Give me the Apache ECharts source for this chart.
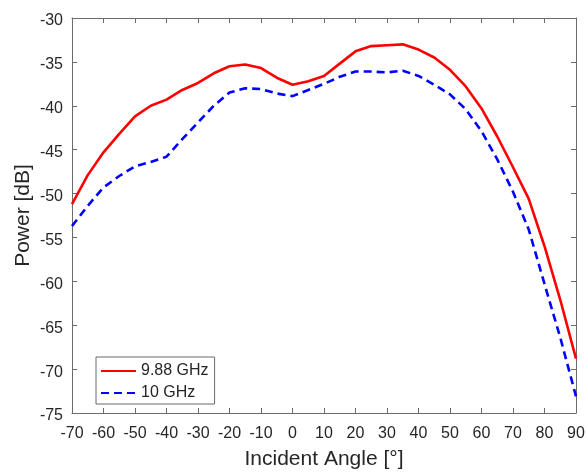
<!DOCTYPE html>
<html>
<head>
<meta charset="utf-8">
<script src="https://cdn.jsdelivr.net/npm/echarts@6/dist/echarts.min.js"></script>
<style>
html,body{margin:0;padding:0;background:#fff;}
#chart{width:588px;height:472px;}
</style>
</head>
<body>
<div id="chart"></div>
<script>
const angles = [-70,-65,-60,-55,-50,-45,-40,-35,-30,-25,-20,-15,-10,-5,0,5,10,15,20,25,30,35,40,45,50,55,60,65,70,75,80,85,90];
const power988 = [-51.2,-47.9,-45.3,-43.2,-41.2,-40.0,-39.3,-38.2,-37.4,-36.3,-35.5,-35.3,-35.7,-36.8,-37.6,-37.2,-36.6,-35.2,-33.8,-33.2,-33.1,-33.0,-33.6,-34.5,-35.9,-37.8,-40.3,-43.5,-47.0,-50.6,-56.0,-62.1,-68.8];
const power10 = [-53.7,-51.4,-49.3,-48.0,-46.9,-46.4,-45.8,-43.8,-41.9,-40.0,-38.5,-38.0,-38.1,-38.6,-38.9,-38.2,-37.5,-36.7,-36.1,-36.1,-36.2,-36.0,-36.6,-37.6,-38.7,-40.4,-42.9,-46.1,-49.8,-54.1,-60.3,-66.4,-73.1];
const seriesNames = ['9.88 GHz','10 GHz'];
const xTicks = {min:-70, max:90, interval:10};
const yTicks = {min:-75, max:-30, interval:5};

const font = 'Liberation Sans, Arial, Helvetica, sans-serif';
const txt = '#262626';
const axCol = '#6b6b6b';

const chart = echarts.init(document.getElementById('chart'), null, {renderer:'canvas'});
const baseX = {
  type:'value', min:xTicks.min, max:xTicks.max, interval:xTicks.interval,
  axisLine:{show:true, onZero:false, lineStyle:{color:axCol, width:1}},
  axisTick:{show:true, inside:true, length:5, lineStyle:{color:axCol}},
  splitLine:{show:false}
};
const baseY = {
  type:'value', min:yTicks.min, max:yTicks.max, interval:yTicks.interval,
  axisLine:{show:true, onZero:false, lineStyle:{color:axCol, width:1}},
  axisTick:{show:true, inside:true, length:5, lineStyle:{color:axCol}},
  splitLine:{show:false}
};
chart.setOption({
  animation:false,
  backgroundColor:'#fff',
  grid:{left:72, right:12, top:18, bottom:59, containLabel:false, outerBoundsMode:'none'},
  legend:{
    show:true, orient:'vertical', left:96, top:357,
    data:seriesNames,
    backgroundColor:'#fff', borderColor:'#6b6b6b', borderWidth:1, borderRadius:0,
    padding:[6,6,3,4], itemGap:6, itemWidth:35, itemHeight:16,
    itemStyle:{opacity:0},
    textStyle:{fontFamily:font, fontSize:16, color:txt}
  },
  xAxis:[
    Object.assign({}, baseX, {
      position:'bottom',
      name:'Incident Angle [°]', nameLocation:'middle', nameGap:36, nameMoveOverlap:false,
      nameTextStyle:{fontFamily:font, fontSize:21, color:txt},
      axisLabel:{fontFamily:font, fontSize:16, color:txt, margin:13}
    }),
    Object.assign({}, baseX, {position:'top', axisLabel:{show:false}})
  ],
  yAxis:[
    Object.assign({}, baseY, {
      position:'left',
      name:'Power [dB]', nameLocation:'middle', nameGap:38, nameMoveOverlap:false,
      nameTextStyle:{fontFamily:font, fontSize:21, color:txt},
      axisLabel:{
        fontFamily:font, fontSize:16, color:txt, margin:9,
        formatter:'{v|{value}}',
        rich:{v:{fontFamily:font, fontSize:16, color:txt, padding:[6,0,0,0]}}
      }
    }),
    Object.assign({}, baseY, {position:'right', axisLabel:{show:false}})
  ],
  series:[
    {
      name:seriesNames[0], type:'line', xAxisIndex:0, yAxisIndex:0,
      data:angles.map((a,i)=>[a,power988[i]]),
      symbol:'none', showSymbol:false, smooth:false,
      lineStyle:{color:'#ff0000', width:2.6, type:'solid'},
      itemStyle:{color:'#ff0000'}
    },
    {
      name:seriesNames[1], type:'line', xAxisIndex:0, yAxisIndex:0,
      data:angles.map((a,i)=>[a,power10[i]]),
      symbol:'none', showSymbol:false, smooth:false,
      lineStyle:{color:'#0000ff', width:2.6, type:[8,5]},
      itemStyle:{color:'#0000ff'}
    }
  ]
});
</script>
</body>
</html>
